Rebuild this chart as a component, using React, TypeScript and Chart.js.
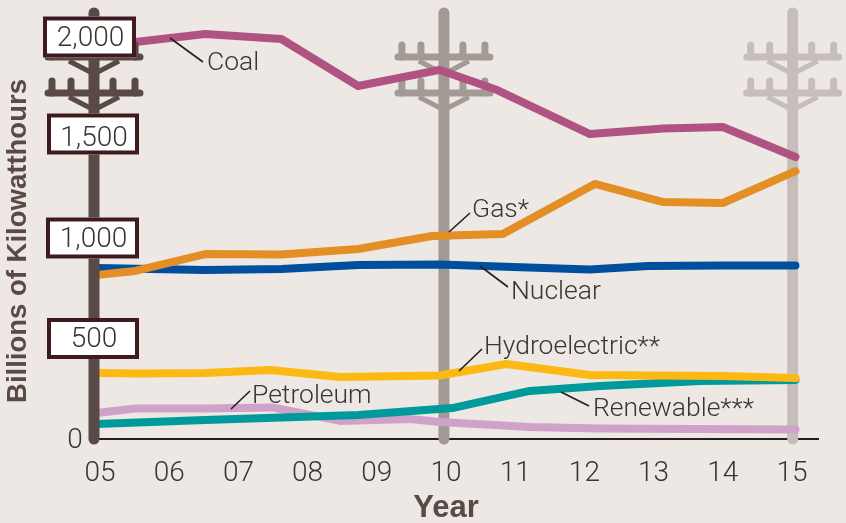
import React, { useEffect, useRef } from "react";
import { Chart, registerables } from "chart.js";

Chart.register(...registerables);

const yearTicks = [5, 6, 7, 8, 9, 10, 11, 12, 13, 14, 15];
const valueTicks = [0, 500, 1000, 1500, 2000];

const coalX = [4.92, 5.51, 6.52, 7.62, 8.73, 9.91, 10.74, 12.08, 13.14, 14.0, 15.05];
const coalY = [1955, 1975, 2015, 1990, 1756, 1836, 1736, 1517, 1545, 1552, 1403];
const gasX = [4.95, 5.51, 6.52, 7.62, 8.73, 9.8, 10.82, 12.15, 13.14, 14.0, 15.05];
const gasY = [816, 836, 920, 918, 945, 1010, 1020, 1269, 1179, 1174, 1333];
const nuclearX = [4.95, 6.52, 7.62, 8.73, 9.91, 10.97, 12.08, 12.92, 14.0, 15.05];
const nuclearY = [851, 841, 846, 866, 868, 856, 843, 861, 863, 863];
const hydroX = [4.95, 5.58, 6.52, 7.46, 8.47, 9.91, 10.87, 12.08, 14.0, 15.05];
const hydroY = [328, 326, 328, 343, 308, 316, 373, 318, 313, 303];
const renewableX = [4.95, 6.52, 8.73, 10.09, 11.21, 12.23, 13.67, 15.05];
const renewableY = [75, 95, 119, 154, 239, 264, 289, 294];
const petroleumX = [4.95, 5.51, 6.52, 7.49, 8.47, 9.48, 9.91, 11.21, 12.23, 15.05];
const petroleumY = [129, 152, 152, 157, 90, 100, 85, 60, 52, 47];

const callouts = [
  { text: "Coal", from: [170, 38], to: [203, 62], tx: 207, ty: 61 },
  { text: "Gas*", from: [449, 232], to: [470, 213], tx: 472, ty: 208 },
  { text: "Nuclear", from: [480, 266], to: [508, 287], tx: 511, ty: 290 },
  { text: "Hydroelectric**", from: [459, 371], to: [482, 349], tx: 484, ty: 345 },
  { text: "Renewable***", from: [561, 392], to: [589, 406], tx: 593, ty: 407 },
  { text: "Petroleum", from: [231, 409], to: [250, 391], tx: 252, ty: 394 },
];

const pair = (xs: number[], ys: number[]) => xs.map((x, i) => ({ x, y: ys[i] }));

const FONT = 'Roboto, "Liberation Sans", Arial, sans-serif';
const BOLD = '"Liberation Sans", Arial, sans-serif';
const INK = "#3a3534";
const BROWN = "#5a4a47";

function drawPole(ctx: CanvasRenderingContext2D, x: number, color: string) {
  ctx.save();
  ctx.strokeStyle = color;
  ctx.lineCap = "round";
  ctx.lineWidth = 11;
  ctx.beginPath();
  ctx.moveTo(x, 13);
  ctx.lineTo(x, 439);
  ctx.stroke();
  for (const y of [57, 93]) {
    ctx.lineWidth = 7;
    ctx.beginPath();
    ctx.moveTo(x - 46, y);
    ctx.lineTo(x + 46, y);
    ctx.stroke();
    ctx.lineWidth = 5;
    ctx.lineCap = "butt";
    ctx.beginPath();
    ctx.moveTo(x - 25, y + 4);
    ctx.lineTo(x, y + 17);
    ctx.lineTo(x + 25, y + 4);
    ctx.stroke();
    ctx.lineCap = "round";
    for (const dx of [-42, -23, 19, 41]) {
      ctx.lineWidth = 7;
      ctx.beginPath();
      ctx.moveTo(x + dx, y - 12);
      ctx.lineTo(x + dx, y);
      ctx.stroke();
    }
  }
  ctx.restore();
}

const polePlugin = {
  id: "poles",
  beforeDatasetsDraw(chart: any) {
    const xs = chart.scales.x;
    drawPole(chart.ctx, xs.getPixelForValue(15.01), "#c6bebb");
    drawPole(chart.ctx, xs.getPixelForValue(9.97), "#a39a96");
  },
};

const labelPlugin = {
  id: "labels",
  afterDatasetsDraw(chart: any) {
    const { ctx, scales } = chart;
    drawPole(ctx, scales.x.getPixelForValue(4.913), BROWN);
    ctx.save();
    ctx.textBaseline = "middle";
    ctx.textAlign = "center";
    ctx.font = `300 28px ${FONT}`;
    const boxOffset: Record<number, [number, number, number]> = {
      2000: [89.5, 93, 0],
      1500: [93, 92, -3.5],
      1000: [92.5, 93, 0],
      500: [93, 92, 0],
    };
    for (const v of valueTicks) {
      const y = scales.y.getPixelForValue(v);
      const label = v.toLocaleString("en-US");
      if (v === 0) {
        ctx.fillStyle = INK;
        ctx.fillText(label, 75, y + 2);
        continue;
      }
      const [cx, w, dy] = boxOffset[v];
      ctx.fillStyle = "#ffffff";
      ctx.fillRect(cx - w / 2, y + dy - 20.5, w, 41);
      ctx.strokeStyle = "#3f1a1f";
      ctx.lineWidth = 4;
      ctx.strokeRect(cx - w / 2 + 2, y + dy - 18.5, w - 4, 37);
      ctx.fillStyle = INK;
      ctx.fillText(label, cx + 1, y + 2);
    }
    ctx.textAlign = "left";
    ctx.font = `300 26.5px ${FONT}`;
    for (const c of callouts) {
      ctx.strokeStyle = "#231f20";
      ctx.lineWidth = 1.6;
      ctx.beginPath();
      ctx.moveTo(c.from[0], c.from[1]);
      ctx.lineTo(c.to[0], c.to[1]);
      ctx.stroke();
      ctx.fillStyle = INK;
      ctx.fillText(c.text, c.tx, c.ty + 2);
    }
    ctx.fillStyle = BROWN;
    ctx.font = `bold 31px ${BOLD}`;
    ctx.textAlign = "center";
    ctx.fillText("Year", 446, 508);
    ctx.translate(18, 241);
    ctx.rotate(-Math.PI / 2);
    ctx.font = `bold 27.5px ${BOLD}`;
    ctx.fillText("Billions of Kilowatthours", 0, 0);
    ctx.restore();
  },
};

const line = (label: string, xs: number[], ys: number[], color: string) => ({
  label,
  data: pair(xs, ys),
  borderColor: color,
  borderWidth: 8,
  pointRadius: 0,
  tension: 0,
  clip: false as const,
  borderCapStyle: "round" as const,
  borderJoinStyle: "round" as const,
});

export default function App() {
  const ref = useRef<HTMLCanvasElement>(null);
  useEffect(() => {
    document.body.style.margin = "0";
    document.body.style.background = "#ede8e4";
    const chart = new Chart(ref.current!, {
      type: "line",
      data: {
        datasets: [
          line("Coal", coalX, coalY, "#b05383"),
          line("Hydroelectric", hydroX, hydroY, "#fdb913"),
          line("Renewable", renewableX, renewableY, "#009a9c"),
          line("Gas", gasX, gasY, "#e38f26"),
          line("Nuclear", nuclearX, nuclearY, "#004f9e"),
          line("Petroleum", petroleumX, petroleumY, "#d0a2c9"),
        ],
      },
      options: {
        responsive: false,
        animation: false,
        layout: { padding: { left: 94, right: 28, top: 1, bottom: 0 } },
        plugins: { legend: { display: false }, tooltip: { enabled: false } },
        scales: {
          x: {
            type: "linear",
            min: 4.913,
            max: 15.376,
            grid: { display: false },
            border: { display: true, color: "#231f20", width: 2 },
            afterBuildTicks: (s: any) => {
              s.ticks = yearTicks.map((value) => ({ value }));
            },
            afterFit: (s: any) => {
              s.height = 84;
            },
            ticks: {
              maxRotation: 0,
              autoSkip: false,
              padding: 10,
              color: INK,
              font: { family: FONT, size: 28, weight: "300" },
              callback: (v: any) => String(v).padStart(2, "0"),
            },
          },
          y: {
            display: false,
            min: 0,
            max: 2179,
          },
        },
      },
      plugins: [polePlugin, labelPlugin],
    } as any);
    return () => chart.destroy();
  }, []);
  return <canvas ref={ref} width={846} height={523} style={{ display: "block", background: "#ede8e4" }} />;
}
